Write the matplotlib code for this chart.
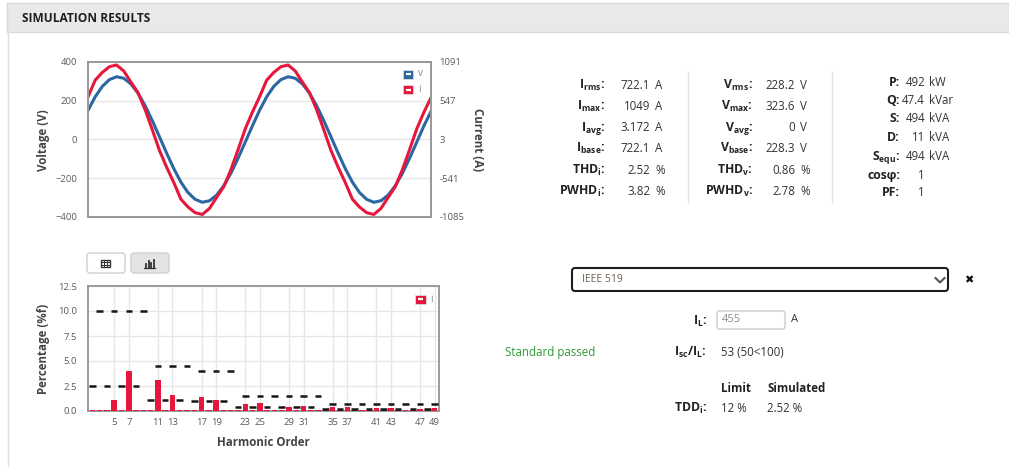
import matplotlib
matplotlib.use("Agg")
import matplotlib.pyplot as plt
from matplotlib.patches import Rectangle, FancyBboxPatch
import numpy as np

plt.rcParams['font.family'] = ['Open Sans', 'DejaVu Sans']
plt.rcParams['mathtext.fontset'] = 'custom'
plt.rcParams['mathtext.rm'] = 'Open Sans'
plt.rcParams['mathtext.bf'] = 'Open Sans:bold'
plt.rcParams['mathtext.it'] = 'Open Sans:italic'

W, H = 1009, 467
BLUE = '#2a67a3'
RED = '#e6163c'

# waveforms: 24 samples per period, two periods
sample_idx = list(range(49))
voltage = [150, 220, 274, 309, 324, 316, 287, 239, 174, 97, 14, -70,
           -150, -220, -274, -309, -324, -316, -287, -239, -174, -97, -14, 70,
           150, 220, 274, 309, 324, 316, 287, 239, 174, 97, 14, -70,
           -150, -220, -274, -309, -324, -316, -287, -239, -174, -97, -14, 70,
           145]
current = [600, 835, 945, 1025, 1049, 965, 810, 660, 420, 140, -150, -385,
           -600, -835, -945, -1025, -1049, -965, -810, -660, -420, -140, 150, 385,
           600, 835, 945, 1025, 1049, 965, 810, 660, 420, 140, -150, -385,
           -600, -835, -945, -1025, -1049, -965, -810, -660, -420, -140, 150, 385,
           590]
volt_ticks = [-400, -200, 0, 200, 400]
curr_ticks = [-1085, -541, 3, 547, 1091]

# harmonic spectrum of current (% of fundamental) and IEEE 519 limits
harm_orders = list(range(2, 50))
harm_pct = [0.15, 0.12, 0.1, 1.1, 0.1, 4.0, 0.1, 0.1, 0.1, 3.1, 0.1, 1.6,
            0.1, 0.1, 0.1, 1.4, 0.1, 1.1, 0.1, 0.1, 0.1, 0.7, 0.1, 0.8,
            0.1, 0.1, 0.1, 0.45, 0.1, 0.5, 0.1, 0.1, 0.1, 0.4, 0.1, 0.4,
            0.1, 0.1, 0.1, 0.3, 0.1, 0.3, 0.1, 0.1, 0.1, 0.25, 0.1, 0.28]
harm_limit = [2.5, 10, 2.5, 10, 2.5, 10, 2.5, 10,
              1.125, 4.5, 1.125, 4.5, 1.125, 4.5,
              1.0, 4.0, 1.0, 4.0, 1.0, 4.0,
              0.375, 1.5, 0.375, 1.5, 0.375, 1.5, 0.375, 1.5, 0.375, 1.5, 0.375, 1.5,
              0.175, 0.7, 0.175, 0.7, 0.175, 0.7, 0.175, 0.7, 0.175, 0.7, 0.175, 0.7,
              0.175, 0.7, 0.175, 0.7]
harm_ticks = [5, 7, 11, 13, 17, 19, 23, 25, 29, 31, 35, 37, 41, 43, 47, 49]
pct_ticks = [0, 2.5, 5, 7.5, 10, 12.5]

# result tables
i_labels = [r'$\mathbf{I_{rms}}$:', r'$\mathbf{I_{max}}$:', r'$\mathbf{I_{avg}}$:',
            r'$\mathbf{I_{base}}$:', r'$\mathbf{THD_{i}}$:', r'$\mathbf{PWHD_{i}}$:']
i_values = ['722.1', '1049', '3.172', '722.1', '2.52', '3.82']
i_units = ['A', 'A', 'A', 'A', '%', '%']
v_labels = [r'$\mathbf{V_{rms}}$:', r'$\mathbf{V_{max}}$:', r'$\mathbf{V_{avg}}$:',
            r'$\mathbf{V_{base}}$:', r'$\mathbf{THD_{v}}$:', r'$\mathbf{PWHD_{v}}$:']
v_values = ['228.2', '323.6', '0', '228.3', '0.86', '2.78']
v_units = ['V', 'V', 'V', 'V', '%', '%']
p_labels = ['P:', 'Q:', 'S:', 'D:', r'$\mathbf{S_{equ}}$:', 'cosφ:', 'PF:']
p_values = ['492', '47.4', '494', '11', '494', '1', '1']
p_units = ['kW', 'kVar', 'kVA', 'kVA', 'kVA', '', '']


def box(l, t, r, b):
    return [l / W, 1 - b / H, (r - l) / W, (b - t) / H]


fig = plt.figure(figsize=(W / 100, H / 100), dpi=100)

# ---- waveform chart
ax = fig.add_axes(box(88, 62, 431, 217))
ax.plot(sample_idx, voltage, color=BLUE, lw=2.2, solid_joinstyle='round')
ax.set_xlim(0, 48)
ax.set_ylim(-400, 400)
ax.set_xticks([])
ax.set_yticks(volt_ticks)
ax.yaxis.grid(True, color='#e6e6e6', lw=1)
ax.set_axisbelow(True)
ax.tick_params(axis='y', length=0, pad=8, labelsize=6.8, labelcolor='#5a5a5a')
ax2 = ax.twinx()
ax2.plot(sample_idx, current, color=RED, lw=2.2, solid_joinstyle='round')
ax2.set_ylim(-1085, 1091)
ax2.set_yticks(curr_ticks)
ax2.set_yticklabels([str(t) for t in curr_ticks])
ax2.tick_params(axis='y', length=0, pad=6, labelsize=6.8, labelcolor='#5a5a5a')
for a in (ax, ax2):
    for s in a.spines.values():
        s.set_color('#9a9a9a')
        s.set_linewidth(1.4)

# ---- harmonic chart
hx = fig.add_axes(box(88, 286, 439, 411))
orders = np.array(harm_orders)
hx.bar(orders, harm_pct, width=0.75, color=RED, zorder=3)
hx.hlines(harm_limit, orders - 0.45, orders + 0.45, color='#151515', lw=1.8, zorder=4)
hx.set_xlim(1.4, 49.6)
hx.set_ylim(0, 12.5)
hx.set_xticks(harm_ticks)
hx.set_yticks(pct_ticks)
hx.set_yticklabels(['%.1f' % t for t in pct_ticks])
hx.grid(True, color='#e6e6e6', lw=1)
hx.set_axisbelow(True)
hx.tick_params(length=0, labelsize=6.8, labelcolor='#5a5a5a')
hx.tick_params(axis='y', pad=8)
hx.tick_params(axis='x', pad=5)
for s in hx.spines.values():
    s.set_color('#9a9a9a')
    s.set_linewidth(1.4)

# ---- overlay in pixel coordinates for the page elements
ui = fig.add_axes([0, 0, 1, 1], zorder=10)
ui.set_xlim(0, W)
ui.set_ylim(H, 0)
ui.axis('off')
ui.patch.set_visible(False)

ui.add_patch(Rectangle((7, 3), W - 7, 29, fc='#e9e9e9', ec='#d8d8d8', lw=1))
ui.plot([7.5, 7.5], [32, H], color='#dedede', lw=1)
ui.text(22, 18, 'SIMULATION RESULTS', fontsize=8.6, fontweight='bold', color='#1e1e1e',
        va='center')

title_kw = dict(fontsize=8.3, fontweight='bold', color='#444444', va='center', ha='center')
ui.text(44, 140, 'Voltage (V)', rotation=90, **title_kw)
ui.text(478, 140, 'Current (A)', rotation=-90, **title_kw)
ui.text(44, 349, 'Percentage (%f)', rotation=90, **title_kw)
ui.text(263, 442, 'Harmonic Order', **title_kw)

# legends
for (cy, col, lab) in [(74, BLUE, 'v'), (89.5, RED, 'i')]:
    ui.add_patch(Rectangle((403, cy - 4.5), 10, 9, fc=col, ec='#dddddd', lw=0.6))
    ui.plot([405.5, 410.5], [cy, cy], color='white', lw=1.6, solid_capstyle='butt')
    ui.text(418, cy, lab, fontsize=7, color='#888888', va='center')
ui.add_patch(Rectangle((415, 294.5), 11, 9, fc=RED, ec='#dddddd', lw=0.6))
ui.plot([418, 423], [299, 299], color='white', lw=1.6, solid_capstyle='butt')
ui.text(430, 299, 'i', fontsize=7, color='#888888', va='center')

# table / chart buttons
ui.add_patch(FancyBboxPatch((87, 253), 38, 20, boxstyle='round,pad=0,rounding_size=3',
                            fc='white', ec='#cfcfcf', lw=1))
ui.add_patch(FancyBboxPatch((131, 253), 38, 20, boxstyle='round,pad=0,rounding_size=3',
                            fc='#e4e4e4', ec='#cfcfcf', lw=1))
ui.add_patch(Rectangle((101, 260), 9, 7, fc='none', ec='#333333', lw=1))
for yy in (262.3, 264.6):
    ui.plot([101, 110], [yy, yy], color='#333333', lw=0.7)
for xx in (104, 107):
    ui.plot([xx, xx], [260, 267], color='#333333', lw=0.7)
ui.plot([144, 155], [268, 268], color='#333333', lw=0.9)
for xx, top in [(146, 264), (148.5, 261), (151, 263), (153.5, 259.5)]:
    ui.plot([xx, xx], [267.5, top], color='#333333', lw=1.3)

# result tables
lab_kw = dict(fontsize=8.8, fontweight='bold', color='#222222', va='baseline', ha='right')
val_kw = dict(fontsize=8.3, color='#333333', va='baseline', ha='right')
unit_kw = dict(fontsize=8.3, color='#333333', va='baseline', ha='left')
rows_iv = [85, 106, 127, 148, 170, 191]
for k, y in enumerate(rows_iv):
    ui.text(605, y + 4, i_labels[k], **lab_kw)
    ui.text(650, y + 4, i_values[k], **val_kw)
    ui.text(655, y + 4, i_units[k], **unit_kw)
    ui.text(753, y + 4, v_labels[k], **lab_kw)
    ui.text(795, y + 4, v_values[k], **val_kw)
    ui.text(800, y + 4, v_units[k], **unit_kw)
rows_p = [82, 100, 118, 137, 156, 175, 192]
for k, y in enumerate(rows_p):
    ui.text(900, y + 4, p_labels[k], **lab_kw)
    ui.text(925, y + 4, p_values[k], **val_kw)
    ui.text(929, y + 4, p_units[k], **unit_kw)
ui.plot([688, 688], [72, 202], color='#e2e2e2', lw=1)
ui.plot([832, 832], [72, 202], color='#e2e2e2', lw=1)

# standard selection
ui.add_patch(FancyBboxPatch((572, 268), 376, 23, boxstyle='round,pad=0,rounding_size=3',
                            fc='white', ec='#1e1e1e', lw=1.5))
ui.text(582, 280, 'IEEE 519', fontsize=7.5, color='#6e6150', va='center')
ui.plot([935.5, 940, 944.5], [278, 282.5, 278], color='#555555', lw=1.5)
ui.text(969, 280, '✖', fontsize=8, color='#111111', va='center', ha='center',
        family=['DejaVu Sans'])

ui.text(707, 325, r'$\mathbf{I_{L}}$:', **lab_kw)
ui.add_patch(FancyBboxPatch((717, 311), 68, 18, boxstyle='round,pad=0,rounding_size=2',
                            fc='white', ec='#cccccc', lw=1))
ui.text(722, 320, '455', fontsize=8, color='#8a8a8a', va='center')
ui.text(791, 320, 'A', fontsize=8, color='#333333', va='center')

ui.text(505, 352.5, 'Standard passed', fontsize=8.3, color='#2e9a35', va='center')
ui.text(707, 356, r'$\mathbf{I_{sc}/I_{L}}$:', **lab_kw)
ui.text(721, 352, '53 (50<100)', fontsize=8.3, color='#333333', va='center')

ui.text(721, 388, 'Limit', fontsize=8.3, fontweight='bold', color='#222222', va='center')
ui.text(767, 388, 'Simulated', fontsize=8.3, fontweight='bold', color='#222222', va='center')
ui.text(707, 412, r'$\mathbf{TDD_{i}}$:', **lab_kw)
ui.text(721, 408, '12 %', fontsize=8.3, color='#333333', va='center')
ui.text(767, 408, '2.52 %', fontsize=8.3, color='#333333', va='center')

fig.savefig('out.png', dpi=100, facecolor='white')
